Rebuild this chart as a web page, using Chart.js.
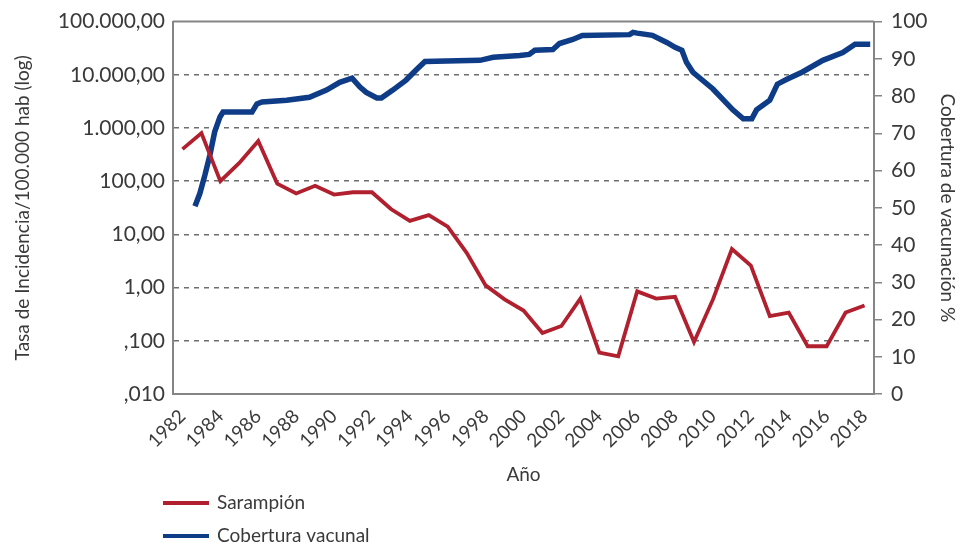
<!DOCTYPE html>
<html>
<head>
<meta charset="utf-8">
<script src="https://cdn.jsdelivr.net/npm/chart.js@4.4.1/dist/chart.umd.min.js"></script>
<style>
  html, body { margin: 0; padding: 0; background: #fff; }
</style>
</head>
<body>
<canvas id="myChart" width="960" height="550"></canvas>
<script>
// yearly categories
const years = [1982, 1983, 1984, 1985, 1986, 1987, 1988, 1989, 1990, 1991,
  1992, 1993, 1994, 1995, 1996, 1997, 1998, 1999, 2000, 2001, 2002, 2003,
  2004, 2005, 2006, 2007, 2008, 2009, 2010, 2011, 2012, 2013, 2014, 2015,
  2016, 2017, 2018];

// Sarampión, tasa por 100.000 hab
const measles = [400, 800, 100, 220, 570, 90, 59, 82, 56, 62,
  62, 30, 18, 23, 14, 4.5, 1.1, 0.6, 0.37, 0.14, 0.19, 0.62,
  0.06, 0.051, 0.85, 0.62, 0.67, 0.095, 0.6, 5.3, 2.6, 0.29, 0.34, 0.079,
  0.079, 0.34, 0.46];

// Cobertura vacunal (%)
const coverYears = [1982.66, 1982.92, 1983.19, 1983.45, 1983.7, 1983.98, 1984.14,
  1985.67, 1985.93, 1986.2, 1987.5, 1988.7, 1989.6, 1990.3, 1990.95, 1991.37,
  1991.7, 1992.26, 1992.5, 1993.1, 1993.8, 1994.37, 1994.8, 1997.7, 1998.4,
  1999.8, 2000.3, 2000.6, 2001.55, 2001.9, 2002.6, 2003.1, 2005.6, 2005.78,
  2006.0, 2006.8, 2007.56, 2008.0, 2008.36, 2008.6, 2008.94, 2010.0, 2011.05,
  2011.6, 2012.05, 2012.3, 2013.0, 2013.4, 2013.9, 2014.7, 2015.8, 2016.85,
  2017.5, 2018.3];
const coverValues = [50.4, 53.9, 58.9, 64.2, 70.4, 74.4, 75.7,
  75.7, 77.9, 78.4, 78.9, 79.7, 81.6, 83.7, 84.8, 82.4,
  81, 79.5, 79.5, 81.6, 84.3, 87.2, 89.3, 89.6, 90.4,
  90.9, 91.2, 92.3, 92.5, 94.1, 95.2, 96.3, 96.5, 97.1,
  96.9, 96.3, 94.4, 93.1, 92.3, 89.1, 86.4, 81.9, 76.3,
  73.9, 73.9, 76.3, 78.9, 83.2, 84.5, 86.4, 89.6, 91.7,
  93.9, 93.9];

const leftTicks = [0.01, 0.1, 1, 10, 100, 1000, 10000, 100000];
const leftTickLabels = [",010", ",100", "1,00", "10,00", "100,00", "1.000,00", "10.000,00", "100.000,00"];

const RED = "#b1202e";
const BLUE = "#0e3c87";
const TXT = "#3a3a3a";
const FONT = "Lato";

// top line of the frame + vertical legend under the axis
const framePlugin = {
  id: "frame",
  afterDraw(chart) {
    const { ctx, chartArea } = chart;
    ctx.save();
    ctx.strokeStyle = "#858585";
    ctx.lineWidth = 2;
    ctx.beginPath();
    ctx.moveTo(chartArea.left, chartArea.top);
    ctx.lineTo(chartArea.right, chartArea.top);
    ctx.stroke();

    ctx.font = "19px " + FONT;
    ctx.textBaseline = "middle";
    ctx.fillStyle = TXT;
    chart.data.datasets.forEach((ds, i) => {
      const y = 503 + i * 33;
      ctx.strokeStyle = ds.borderColor;
      ctx.lineWidth = 4;
      ctx.beginPath();
      ctx.moveTo(163, y);
      ctx.lineTo(209, y);
      ctx.stroke();
      ctx.fillText(ds.label, 217, y);
    });
    ctx.restore();
  },
};

const ctx = document.getElementById("myChart").getContext("2d");
new Chart(ctx, {
  type: "line",
  data: {
    labels: years,
    datasets: [
      {
        label: "Sarampión",
        data: measles,
        xAxisID: "x",
        yAxisID: "y",
        borderColor: RED,
        backgroundColor: RED,
        borderWidth: 3.8,
        pointRadius: 0,
        tension: 0,
      },
      {
        label: "Cobertura vacunal",
        data: coverYears.map((yr, i) => ({ x: yr, y: coverValues[i] })),
        xAxisID: "xb",
        yAxisID: "y2",
        borderColor: BLUE,
        backgroundColor: BLUE,
        borderWidth: 5.5,
        pointRadius: 0,
        tension: 0,
      },
    ],
  },
  options: {
    responsive: false,
    animation: false,
    layout: { padding: { top: 19, bottom: 60, left: 0, right: 0 } },
    plugins: {
      legend: { display: false },
      tooltip: { enabled: false },
    },
    scales: {
      x: {
        type: "category",
        offset: true,
        grid: { display: false },
        border: { display: true, color: "#858585", width: 2 },
        ticks: {
          autoSkip: false,
          maxRotation: 45,
          minRotation: 45,
          padding: 3,
          color: TXT,
          font: { family: FONT, size: 19 },
          callback: function (value, index) {
            const yr = years[index];
            return yr % 2 === 0 ? String(yr) : null;
          },
        },
        title: {
          display: true,
          text: "Año",
          color: TXT,
          font: { family: FONT, size: 19 },
          padding: { top: 4, bottom: 4 },
        },
        afterFit(scale) { scale.height = 96; },
      },
      xb: {
        type: "linear",
        display: false,
        min: 1981.5,
        max: 2018.5,
      },
      y: {
        type: "logarithmic",
        position: "left",
        min: 0.01,
        max: 100000,
        afterBuildTicks(scale) {
          scale.ticks = leftTicks.map((v) => ({ value: v }));
        },
        grid: {
          drawTicks: false,
          lineWidth: 1.5,
          color: (c) => (c.index === 0 || c.index === leftTicks.length - 1 ? "rgba(0,0,0,0)" : "#6e6e6e"),
        },
        border: { display: true, color: "#858585", width: 2, dash: [5, 5] },
        ticks: {
          padding: 8,
          color: TXT,
          font: { family: FONT, size: 21 },
          callback: function (value) {
            const i = leftTicks.indexOf(value);
            return i >= 0 ? leftTickLabels[i] : "";
          },
        },
        title: {
          display: true,
          text: "Tasa de Incidencia/100.000 hab (log)",
          color: TXT,
          font: { family: FONT, size: 19 },
          padding: { top: 11, bottom: 4 },
        },
        afterFit(scale) { scale.width = 173; },
      },
      y2: {
        type: "linear",
        position: "right",
        min: 0,
        max: 100,
        grid: { drawOnChartArea: false, drawTicks: true, tickLength: 8, color: "#858585", lineWidth: 1.5 },
        border: { display: true, color: "#858585", width: 2 },
        ticks: {
          stepSize: 10,
          padding: 9,
          color: TXT,
          font: { family: FONT, size: 21 },
        },
        title: {
          display: true,
          text: "Cobertura de vacunación %",
          color: TXT,
          font: { family: FONT, size: 19 },
          padding: { top: 1, bottom: 4 },
        },
        afterFit(scale) { scale.width = 86; },
      },
    },
  },
  plugins: [framePlugin],
});
</script>
</body>
</html>
